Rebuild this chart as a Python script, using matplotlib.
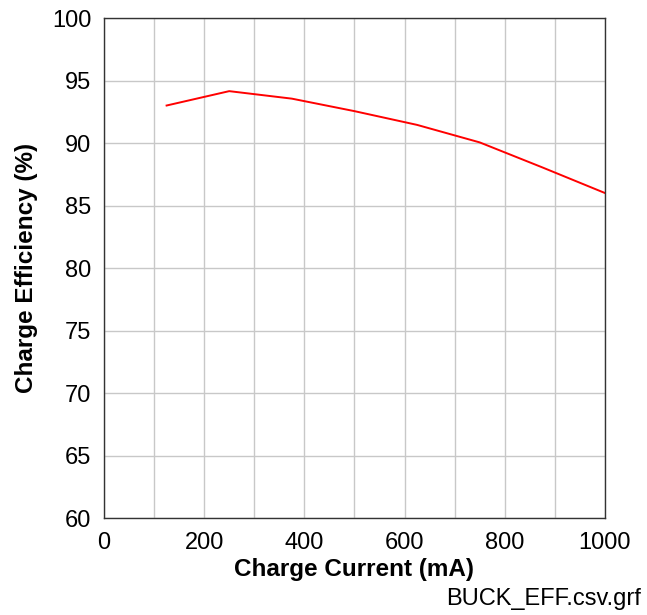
import matplotlib
matplotlib.use("Agg")
import matplotlib.pyplot as plt

plt.rcParams['font.family'] = ['Liberation Sans', 'DejaVu Sans']

# buck charger efficiency vs charge current
current_ma = [125, 250, 375, 500, 625, 750, 875, 1000]
efficiency = [93.0, 94.15, 93.55, 92.55, 91.45, 90.05, 88.05, 86.0]

x_ticks = [0, 200, 400, 600, 800, 1000]
y_ticks = [60, 65, 70, 75, 80, 85, 90, 95, 100]

fig = plt.figure(figsize=(6.47, 6.15), dpi=100)
ax = fig.add_axes([0.1607, 0.1577, 0.7743, 0.813])

ax.plot(current_ma, efficiency, color='#ff0000', linewidth=1.4)

ax.set_xlim(0, 1000)
ax.set_ylim(60, 100)
ax.set_xticks(x_ticks)
ax.set_xticks(range(0, 1001, 100), minor=True)
ax.set_yticks(y_ticks)
ax.grid(True, which='both', color='#c8c8c8', linewidth=1.0)
ax.set_axisbelow(True)
ax.tick_params(which='both', length=0, labelsize=17)
ax.tick_params(axis='x', pad=10)
ax.tick_params(axis='y', pad=9)

for s in ax.spines.values():
    s.set_color('#333333')
    s.set_linewidth(1.0)

ax.set_xlabel('Charge Current (mA)', fontsize=17.5, fontweight='bold', labelpad=3)
ax.set_ylabel('Charge Efficiency (%)', fontsize=17.5, fontweight='bold', labelpad=10)

fig.text(0.99, 0.008, 'BUCK_EFF.csv.grf', ha='right', va='bottom', fontsize=17)

fig.savefig('out.png', dpi=100)
